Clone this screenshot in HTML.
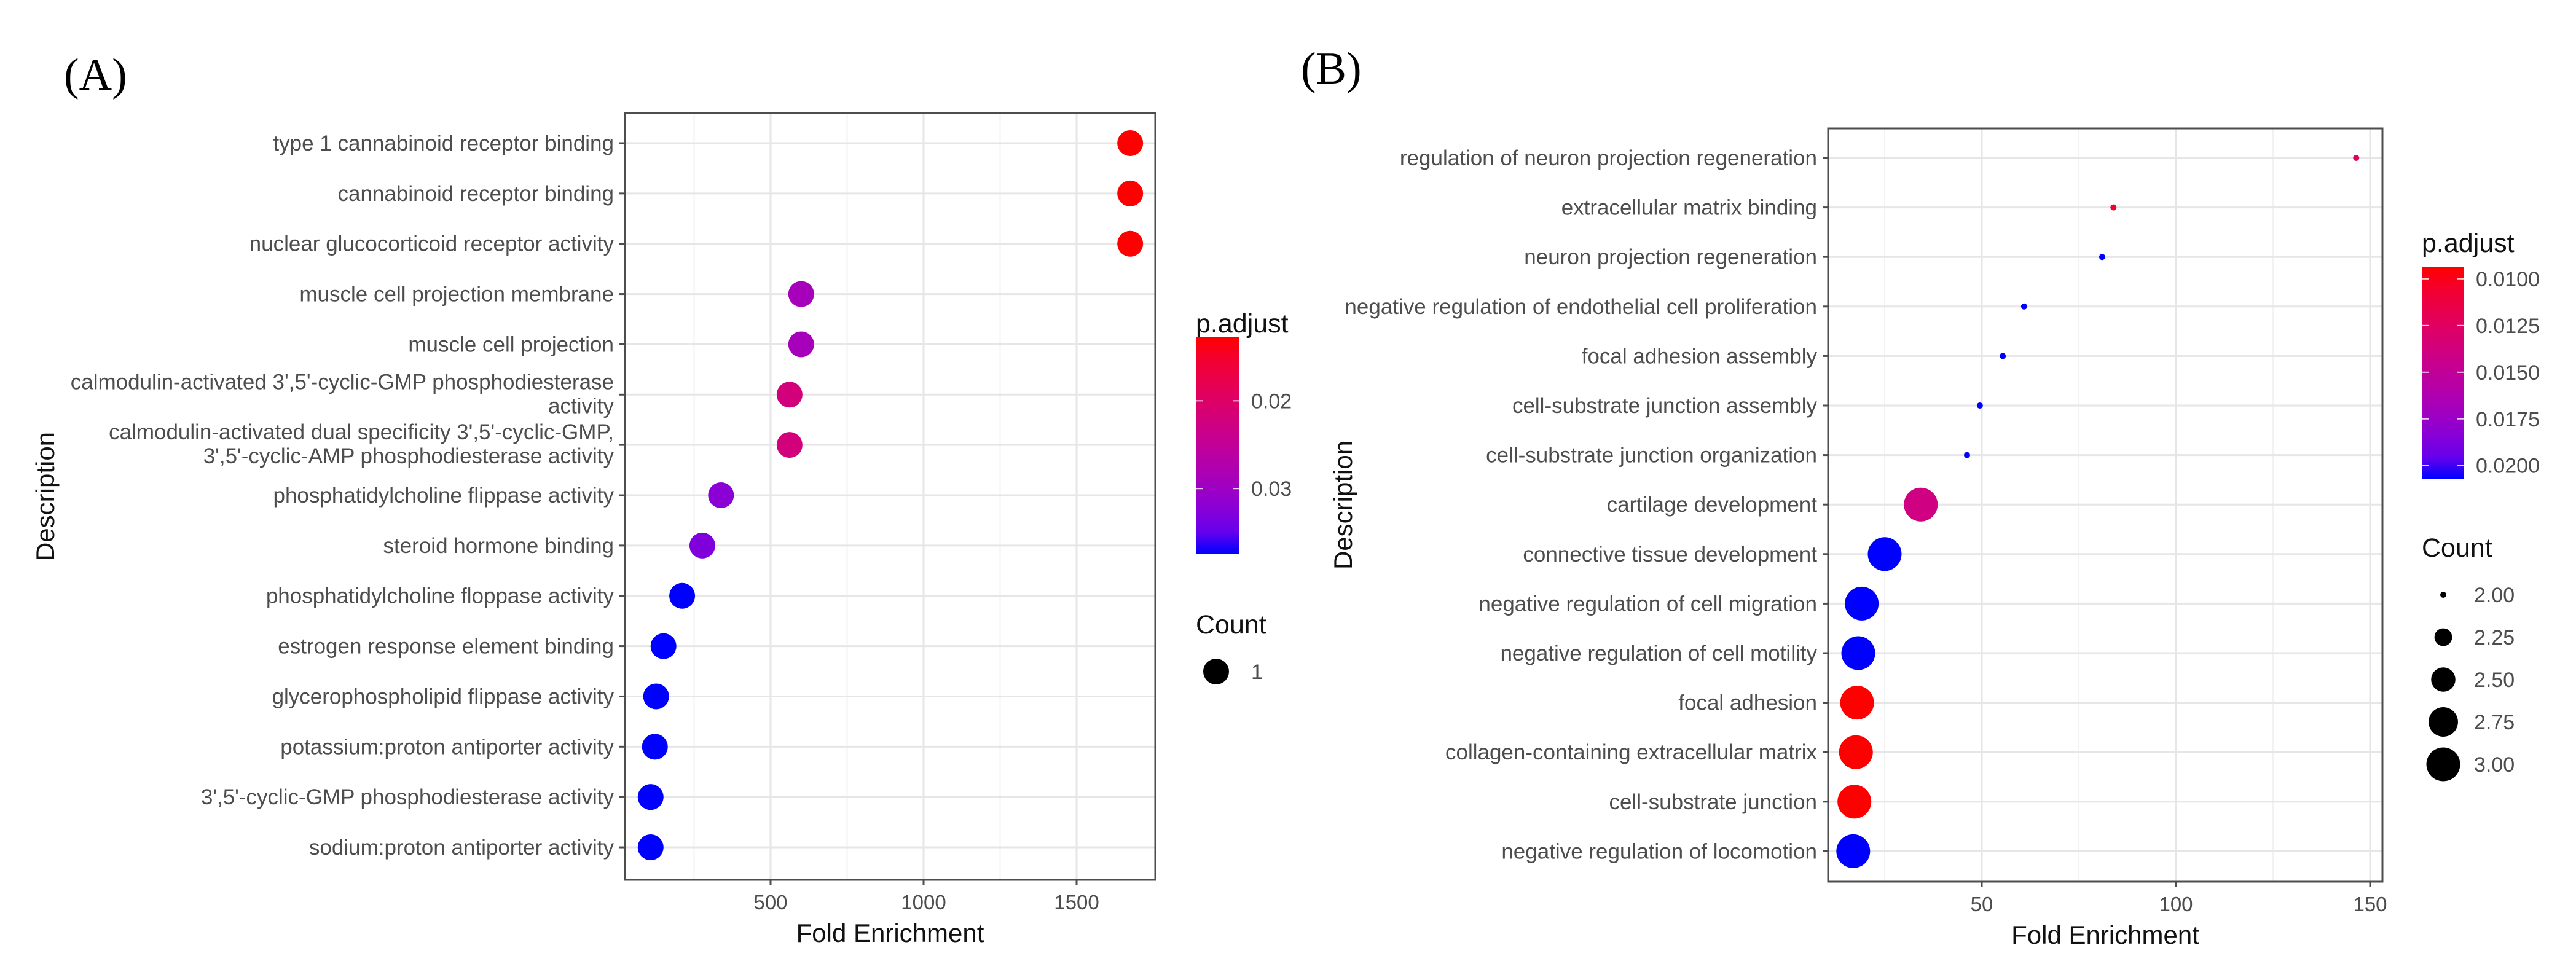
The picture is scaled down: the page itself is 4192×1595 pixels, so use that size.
<!DOCTYPE html>
<html><head><meta charset="utf-8"><style>
html,body{margin:0;padding:0;background:#fff;}
svg{display:block;font-family:"Liberation Sans",Arial,sans-serif;}
</style></head><body>
<svg id="fig" width="4192" height="1595" viewBox="0 0 4192 1595" xmlns="http://www.w3.org/2000/svg">
<defs>
<linearGradient id="gradA" x1="0" y1="0" x2="0" y2="1"></linearGradient>
<linearGradient id="gradB" x1="0" y1="0" x2="0" y2="1"></linearGradient>
</defs>
<text x="104" y="146" font-family="Liberation Serif, serif" font-size="74" fill="#000">(A)</text>
<text x="2117" y="136" font-family="Liberation Serif, serif" font-size="74" fill="#000">(B)</text>
<g id="chartA"></g>
<g id="chartB"></g>
</svg>
<script>
// ---- Panel A data ----
const catsA = ["type 1 cannabinoid receptor binding","cannabinoid receptor binding","nuclear glucocorticoid receptor activity","muscle cell projection membrane","muscle cell projection","calmodulin-activated 3',5'-cyclic-GMP phosphodiesterase|activity","calmodulin-activated dual specificity 3',5'-cyclic-GMP,|3',5'-cyclic-AMP phosphodiesterase activity","phosphatidylcholine flippase activity","steroid hormone binding","phosphatidylcholine floppase activity","estrogen response element binding","glycerophospholipid flippase activity","potassium:proton antiporter activity","3',5'-cyclic-GMP phosphodiesterase activity","sodium:proton antiporter activity"];
const foldA = [1675,1675,1675,600,600,562,562,338,277,211,150,126,122,108,108];
const padjA = [0.0127,0.0127,0.0127,0.0290,0.0290,0.0220,0.0220,0.0320,0.0330,0.0374,0.0374,0.0374,0.0374,0.0374,0.0374];
const countA = [1,1,1,1,1,1,1,1,1,1,1,1,1,1,1];
const xTicksA = [500,1000,1500];
const xMinorA = [250,750,1250];
const legTicksA = [0.02,0.03];
const legTickLabelsA = ["0.02","0.03"];
const countLegA = [1];
// ---- Panel B data ----
const catsB = ["regulation of neuron projection regeneration","extracellular matrix binding","neuron projection regeneration","negative regulation of endothelial cell proliferation","focal adhesion assembly","cell-substrate junction assembly","cell-substrate junction organization","cartilage development","connective tissue development","negative regulation of cell migration","negative regulation of cell motility","focal adhesion","collagen-containing extracellular matrix","cell-substrate junction","negative regulation of locomotion"];
const foldB = [146.4,83.9,81.0,60.9,55.4,49.5,46.2,34.3,25.0,19.1,18.2,17.9,17.6,17.2,16.9];
const padjB = [0.0122,0.0106,0.0207,0.0207,0.0207,0.0207,0.0207,0.0140,0.0207,0.0207,0.0207,0.00938,0.00938,0.00938,0.0207];
const countB = [2,2,2,2,2,2,2,3,3,3,3,3,3,3,3];
const xTicksB = [50,100,150];
const xMinorB = [25,75,125];
const legTicksB = [0.0100,0.0125,0.0150,0.0175,0.0200];
const legTickLabelsB = ["0.0100","0.0125","0.0150","0.0175","0.0200"];
const countLegB = [2.00,2.25,2.50,2.75,3.00];
const countLegLabelsB = ["2.00","2.25","2.50","2.75","3.00"];

const NS = "http://www.w3.org/2000/svg";
function mk(parent, tag, attrs, text){
  const e = document.createElementNS(NS, tag);
  for (const k in attrs) e.setAttribute(k, attrs[k]);
  if (text !== undefined) e.textContent = text;
  parent.appendChild(e);
  return e;
}
function colorAt(t){ // t=0 red (low p) -> 1 blue
  const r = Math.round(255*Math.pow(1-t,0.4));
  const b = Math.round(255*Math.pow(t,0.75));
  return "rgb("+r+",0,"+b+")";
}
function fillGrad(id){
  const g = document.getElementById(id);
  for (let i=0;i<=10;i++){
    mk(g,"stop",{offset:(i/10),"stop-color":colorAt(i/10)});
  }
}
fillGrad("gradA"); fillGrad("gradB");

function drawChart(g, cfg){
  const {cats, fold, padj, count, L, R, T, B, row0, rowStep, xv0, xp0, xScale, xTicks, xMinor, radius, cb, legTicks, legTickLabels, countLeg, countLegLabels, descX} = cfg;
  const xs = v => xp0 + (v - xv0)*xScale;
  const ys = i => row0 + i*rowStep;
  const pmin = Math.min(...padj), pmax = Math.max(...padj);
  const tcol = p => (p - pmin)/(pmax - pmin);
  let e;
  e = mk(g,"rect",{x:L,y:T,width:R-L,height:B-T,fill:"#fff"});
  
  
  xMinor.forEach(v=>{
    e = mk(g,"line",{x1:xs(v),x2:xs(v),y1:T,y2:B,stroke:"#f2f2f2","stroke-width":2});
    
    
  });
  xTicks.forEach(v=>{
    e = mk(g,"line",{x1:xs(v),x2:xs(v),y1:T,y2:B,stroke:"#e6e6e6","stroke-width":3});
    
    
  });
  cats.forEach((c,i)=>{
    e = mk(g,"line",{x1:L,x2:R,y1:ys(i),y2:ys(i),stroke:"#e6e6e6","stroke-width":3});
    
    
  });
  cats.forEach((c,i)=>{
    e = mk(g,"circle",{cx:xs(fold[i]),cy:ys(i),r:radius(count[i]),fill:colorAt(tcol(padj[i]))});
    
    
  });
  e = mk(g,"rect",{x:L,y:T,width:R-L,height:B-T,fill:"none",stroke:"#4d4d4d","stroke-width":3});
  
  
  cats.forEach((c,i)=>{
    e = mk(g,"line",{x1:L-9,x2:L,y1:ys(i),y2:ys(i),stroke:"#4d4d4d","stroke-width":3});
    
    
    const parts = c.split("|");
    const t = mk(g,"text",{x:L-18,"text-anchor":"end","font-size":35,fill:"#4d4d4d"});
    
    
    if (parts.length===1){
      t.setAttribute("y", ys(i)+12);
      t.textContent = c;
    } else {
      t.setAttribute("y", ys(i)-9);
      mk(t,"tspan",{x:L-18},parts[0]);
      mk(t,"tspan",{x:L-18,dy:39},parts[1]);
    }
  });
  xTicks.forEach(v=>{
    e = mk(g,"line",{x1:xs(v),x2:xs(v),y1:B,y2:B+9,stroke:"#4d4d4d","stroke-width":3});
    
    
    e = mk(g,"text",{x:xs(v),y:B+48,"text-anchor":"middle","font-size":33,fill:"#4d4d4d"},String(v));
    
    
  });
  e = mk(g,"text",{x:(L+R)/2,y:B+101,"text-anchor":"middle","font-size":42,fill:"#111"},"Fold Enrichment");
  
  
  e = mk(g,"text",{x:descX,y:(T+B)/2,"text-anchor":"middle","font-size":42,fill:"#111",transform:"rotate(-90 "+descX+" "+((T+B)/2)+")"},"Description");
  
  
  e = mk(g,"text",{x:cb.x,y:cb.titleY,"font-size":43,fill:"#111"},"p.adjust");
  
  
  e = mk(g,"rect",{x:cb.x,y:cb.top,width:cb.w,height:cb.bot-cb.top,fill:"url(#"+cb.grad+")"});
  
  
  const cy = p => cb.top + (p - pmin)/(pmax - pmin)*(cb.bot-cb.top);
  legTicks.forEach((p,k)=>{
    const y = cy(p);
    mk(g,"line",{x1:cb.x,x2:cb.x+11,y1:y,y2:y,stroke:"#fff","stroke-width":2,opacity:0.8});
    mk(g,"line",{x1:cb.x+cb.w-11,x2:cb.x+cb.w,y1:y,y2:y,stroke:"#fff","stroke-width":2,opacity:0.8});
    e = mk(g,"text",{x:cb.x+cb.w+19,y:y+12,"font-size":34,fill:"#4d4d4d"},legTickLabels[k]);
    
    
  });
  e = mk(g,"text",{x:cb.x,y:cb.countTitleY,"font-size":43,fill:"#111"},"Count");
  
  
  countLeg.forEach((c,k)=>{
    const y = cb.countY0 + k*cb.countStep;
    e = mk(g,"circle",{cx:cb.dotX,cy:y,r:radius(c),fill:"#000"});
    
    
    e = mk(g,"text",{x:cb.labX,y:y+12,"font-size":34,fill:"#4d4d4d"},countLegLabels[k]);
    
    
  });
}

drawChart(document.getElementById("chartA"), {
  cats:catsA, fold:foldA, padj:padjA, count:countA,
  L:1017, R:1880, T:184, B:1432, row0:233, rowStep:81.86,
  xv0:500, xp0:1254, xScale:0.498, xTicks:xTicksA, xMinor:xMinorA,
  radius: c => 21,
  cb:{x:1946, w:71, top:548, bot:901, grad:"gradA", titleY:541, countTitleY:1031, countY0:1093, countStep:60, dotX:1979, labX:2036},
  legTicks:legTicksA, legTickLabels:legTickLabelsA, countLeg:countLegA, countLegLabels:["1"], descX:88
});
drawChart(document.getElementById("chartB"), {
  cats:catsB, fold:foldB, padj:padjB, count:countB,
  L:2975, R:3877, T:209, B:1435, row0:257, rowStep:80.6,
  xv0:50, xp0:3225, xScale:6.32, xTicks:xTicksB, xMinor:xMinorB,
  radius: c => Math.sqrt(25 + (c-2)*731),
  cb:{x:3941, w:69, top:435, bot:779, grad:"gradB", titleY:410, countTitleY:906, countY0:968, countStep:69, dotX:3976, labX:4026},
  legTicks:legTicksB, legTickLabels:legTickLabelsB, countLeg:countLegB, countLegLabels:countLegLabelsB, descX:2200
});
</script>
</body></html>
